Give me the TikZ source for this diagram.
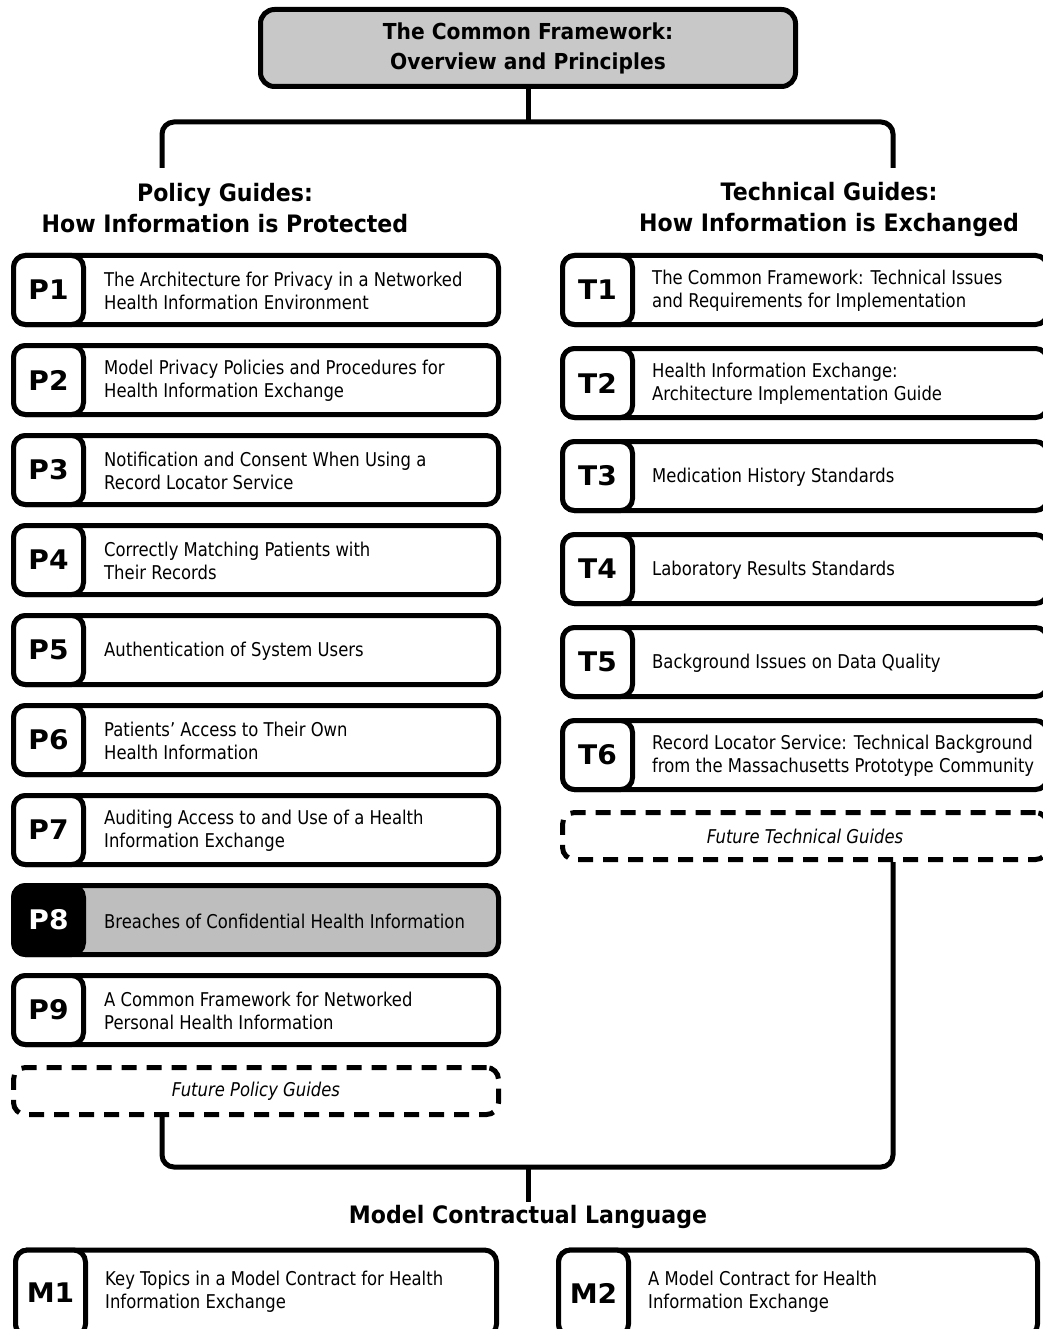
\documentclass[tikz,border=0pt]{standalone}
\usepackage{fontspec}
\setmainfont{DejaVu Sans}
\newfontfamily\guidefont{DejaVu Sans}[FakeStretch=0.865]
\newfontfamily\headfont{DejaVu Sans}[FakeStretch=0.92]
\newfontfamily\tagfont{DejaVu Sans}[FakeStretch=1.04]
\usepackage{tikz}
\usetikzlibrary{calc,positioning}
\definecolor{framegray}{HTML}{C8C8C8}
\definecolor{breachgray}{HTML}{BEBEBE}

\begin{document}
\begin{tikzpicture}[x=1pt,y=-1pt,
  guidebox/.style={draw,line width=5pt,rounded corners=12pt,minimum width=485pt,minimum height=69pt,inner sep=0pt},
  tagbox/.style={draw,fill=white,line width=5pt,rounded corners=12pt,minimum width=70pt,minimum height=69pt,inner sep=0pt,anchor=west,font=\tagfont\bfseries\fontsize{27}{27}\selectfont},
  guidetext/.style={anchor=west,align=left,inner sep=0pt,font=\guidefont\fontsize{19}{23}\selectfont},
  futurebox/.style={guidebox,dash pattern=on 15pt off 10pt,minimum height=47pt,font=\guidefont\itshape\fontsize{19}{23}\selectfont},
  heading/.style={align=center,font=\headfont\bfseries\fontsize{24}{31}\selectfont},
  link/.style={line width=5pt,rounded corners=12pt}]
\useasboundingbox (0,0) rectangle (1042,1329);
\fill[white] (0,0) rectangle (1042,1329);

% top of the tree
\node[draw,line width=5pt,rounded corners=14pt,fill=framegray,minimum width=535pt,minimum height=77pt,align=center,
  font=\headfont\bfseries\fontsize{22}{30}\selectfont] (title) at (528,48) {The Common Framework:\\Overview and Principles};
\node[heading] (polhead) at (225,208) {Policy Guides:\\How Information is Protected};
\node[heading] (techhead) at (829,209) {Technical Guides:\\How Information is Exchanged};
\coordinate (split) at (528,122);
\coordinate (polstem) at (162,168);
\coordinate (techstem) at (893,168);
\draw[link] (title.south) -- (split);
\draw[link] (polstem) |- (split) -| (techstem);

% policy guides
\node[guidebox] (p1) at (256,290) {};
\node[tagbox] (p1tag) at (p1.west) {P1};
\node[guidetext] at ($(p1.west)+(93,1)$) {The Architecture for Privacy in a Networked\\Health Information Environment};
\node[guidebox] (p2) at (256,380) {};
\node[tagbox] (p2tag) at (p2.west) {P2};
\node[guidetext] at ($(p2.west)+(93,1)$) {Model Privacy Policies and Procedures for\\Health Information Exchange};
\node[guidebox] (p3) at (256,470) {};
\node[tagbox] (p3tag) at (p3.west) {P3};
\node[guidetext] at ($(p3.west)+(93,1)$) {Notification and Consent When Using a\\Record Locator Service};
\node[guidebox] (p4) at (256,560) {};
\node[tagbox] (p4tag) at (p4.west) {P4};
\node[guidetext] at ($(p4.west)+(93,1)$) {Correctly Matching Patients with\\Their Records};
\node[guidebox] (p5) at (256,650) {};
\node[tagbox] (p5tag) at (p5.west) {P5};
\node[guidetext] at ($(p5.west)+(93,1)$) {Authentication of System Users};
\node[guidebox] (p6) at (256,740) {};
\node[tagbox] (p6tag) at (p6.west) {P6};
\node[guidetext] at ($(p6.west)+(93,1)$) {Patients’ Access to Their Own\\Health Information};
\node[guidebox] (p7) at (256,830) {};
\node[tagbox] (p7tag) at (p7.west) {P7};
\node[guidetext] at ($(p7.west)+(93,1)$) {Auditing Access to and Use of a Health\\Information Exchange};
\node[guidebox,fill=breachgray] (p8) at (256,920) {};
\node[tagbox,fill=black,text=white] (p8tag) at (p8.west) {P8};
\node[guidetext] at ($(p8.west)+(93,1)$) {Breaches of Confidential Health Information};
\node[guidebox] (p9) at (256,1010) {};
\node[tagbox] (p9tag) at (p9.west) {P9};
\node[guidetext] at ($(p9.west)+(93,1)$) {A Common Framework for Networked\\Personal Health Information};
\node[futurebox] (polfuture) at (256,1091) {\raisebox{-2pt}{Future Policy Guides}};

% technical guides
\node[guidebox] (t1) at (805,290) {};
\node[tagbox] (t1tag) at (t1.west) {T1};
\node[guidetext] at ($(t1.west)+(92,1)$) {The Common Framework: Technical Issues\\and Requirements for Implementation};
\node[guidebox] (t2) at (805,383) {};
\node[tagbox] (t2tag) at (t2.west) {T2};
\node[guidetext] at ($(t2.west)+(92,1)$) {Health Information Exchange:\\Architecture Implementation Guide};
\node[guidebox] (t3) at (805,476) {};
\node[tagbox] (t3tag) at (t3.west) {T3};
\node[guidetext] at ($(t3.west)+(92,1)$) {Medication History Standards};
\node[guidebox] (t4) at (805,569) {};
\node[tagbox] (t4tag) at (t4.west) {T4};
\node[guidetext] at ($(t4.west)+(92,1)$) {Laboratory Results Standards};
\node[guidebox] (t5) at (805,662) {};
\node[tagbox] (t5tag) at (t5.west) {T5};
\node[guidetext] at ($(t5.west)+(92,1)$) {Background Issues on Data Quality};
\node[guidebox] (t6) at (805,755) {};
\node[tagbox] (t6tag) at (t6.west) {T6};
\node[guidetext] at ($(t6.west)+(92,1)$) {Record Locator Service: Technical Background\\from the Massachusetts Prototype Community};
\node[futurebox] (techfuture) at (805,836) {\raisebox{-2pt}{Future Technical Guides}};

% contracts
\coordinate (join) at (528,1167);
\draw[link] ($(polfuture.south)+(-94,0)$) |- (join) -| ($(techfuture.south)+(88,0)$);
\node[heading] (mclhead) at (528,1217) {Model Contractual Language};
\draw[link] (join) -- (mclhead.north);
\node[guidebox,minimum width=481pt,minimum height=86pt] (m1) at (256,1293) {};
\node[tagbox,minimum height=86pt] (m1tag) at (m1.west) {M1};
\node[guidetext] at ($(m1.west)+(92,-1)$) {Key Topics in a Model Contract for Health\\Information Exchange};
\node[guidebox,minimum width=479pt,minimum height=86pt] (m2) at (798,1293) {};
\node[tagbox,minimum height=86pt] (m2tag) at (m2.west) {M2};
\node[guidetext] at ($(m2.west)+(92,-1)$) {A Model Contract for Health\\Information Exchange};
\end{tikzpicture}
\end{document}
